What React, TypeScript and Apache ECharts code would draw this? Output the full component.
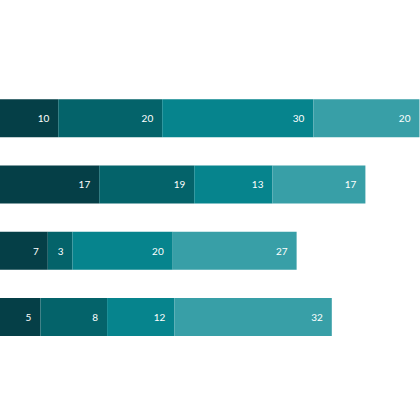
import React, { useEffect, useRef } from "react";
import * as echarts from "echarts";

const categories = ["A", "B", "C", "D"];
// Bar lengths (axis units, 0-80 over the full width)
const seriesLen1 = [11.1, 18.9, 9.1, 7.7];
const seriesLen2 = [19.8, 18.1, 4.7, 12.7];
const seriesLen3 = [28.8, 14.9, 19.1, 12.8];
const seriesLen4 = [20.2, 17.7, 23.6, 30.0];
// Numbers printed on the bars
const seriesLabel1 = [10, 17, 7, 5];
const seriesLabel2 = [20, 19, 3, 8];
const seriesLabel3 = [30, 13, 20, 12];
const seriesLabel4 = [20, 17, 27, 32];

const colors = ["#053F47", "#04636A", "#06848D", "#389FA7"];

export default function App() {
  const ref = useRef<HTMLDivElement>(null);
  useEffect(() => {
    if (!ref.current) return;
    const chart = echarts.init(ref.current, null, { renderer: "svg" });
    const lens = [seriesLen1, seriesLen2, seriesLen3, seriesLen4];
    const labels = [seriesLabel1, seriesLabel2, seriesLabel3, seriesLabel4];
    chart.setOption({
      animation: false,
      grid: { left: 0, right: 0, top: 85, height: 265, containLabel: false },
      xAxis: {
        type: "value",
        min: 0,
        max: 80,
        show: false,
        splitLine: { show: false },
      },
      yAxis: {
        type: "category",
        data: categories,
        inverse: true,
        show: false,
      },
      series: lens.map((d, i) => ({
        type: "bar",
        stack: "total",
        barWidth: 38,
        data: d,
        itemStyle: { color: colors[i] },
        label: {
          show: true,
          position: "insideRight",
          distance: 9,
          color: "#ffffff",
          fontSize: 10,
          fontFamily: "Lato",
          formatter: (p: any) => String(labels[i][p.dataIndex]),
        },
      })),
    });
    return () => chart.dispose();
  }, []);
  return (
    <div
      ref={ref}
      style={{ position: "absolute", left: 0, top: 0, width: 420, height: 419 }}
    />
  );
}
